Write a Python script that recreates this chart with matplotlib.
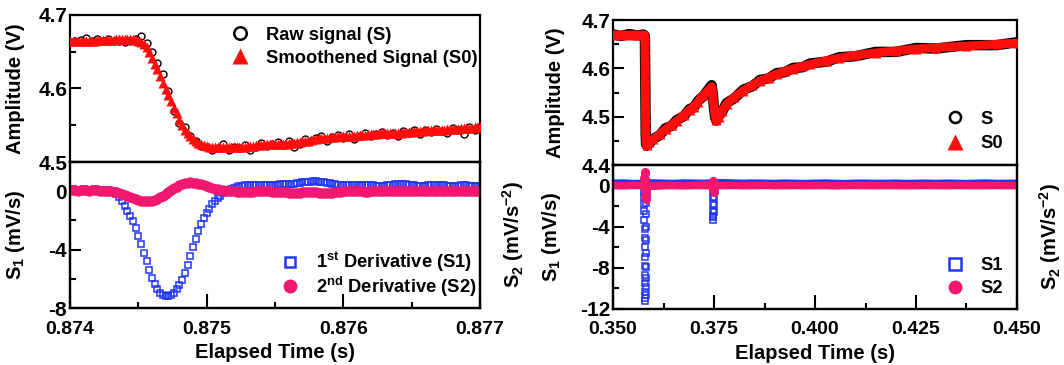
import numpy as np
import matplotlib
matplotlib.use("Agg")
import matplotlib.pyplot as plt
from matplotlib.lines import Line2D
from matplotlib.ticker import MultipleLocator, FormatStrFormatter

# ---------------- left panel: zoom on one event (sampled every 20 us) ----------------
t_left = np.round(np.linspace(0.874, 0.877, 151), 6)
t_left_raw = np.round(np.linspace(0.874, 0.877, 76), 6)

s0_left = [
    4.664, 4.664, 4.664, 4.665, 4.665, 4.665, 4.665, 4.665, 4.665, 4.665,
    4.666, 4.666, 4.666, 4.666, 4.666, 4.666, 4.666, 4.667, 4.667, 4.667,
    4.667, 4.667, 4.667, 4.667, 4.666, 4.665, 4.663, 4.660, 4.656, 4.650,
    4.642, 4.634, 4.626, 4.617, 4.608, 4.600, 4.591, 4.583, 4.574, 4.566,
    4.557, 4.550, 4.544, 4.539, 4.535, 4.531, 4.528, 4.526, 4.524, 4.523,
    4.522, 4.521, 4.521, 4.520, 4.520, 4.520, 4.520, 4.520, 4.520, 4.520,
    4.520, 4.521, 4.521, 4.521, 4.521, 4.522, 4.522, 4.522, 4.523, 4.523,
    4.523, 4.524, 4.524, 4.524, 4.524, 4.525, 4.525, 4.525, 4.525, 4.525,
    4.526, 4.526, 4.526, 4.527, 4.527, 4.528, 4.529, 4.529, 4.530, 4.531,
    4.531, 4.532, 4.532, 4.533, 4.533, 4.534, 4.534, 4.534, 4.535, 4.535,
    4.535, 4.536, 4.536, 4.536, 4.536, 4.537, 4.537, 4.537, 4.537, 4.538,
    4.538, 4.538, 4.538, 4.539, 4.539, 4.539, 4.539, 4.540, 4.540, 4.540,
    4.540, 4.540, 4.541, 4.541, 4.541, 4.541, 4.542, 4.542, 4.542, 4.542,
    4.543, 4.543, 4.543, 4.543, 4.544, 4.544, 4.544, 4.544, 4.545, 4.545,
    4.545, 4.545, 4.545, 4.546, 4.546, 4.546, 4.546, 4.546, 4.547, 4.547,
    4.547,
]

s_left = [
    4.663, 4.665, 4.666, 4.669, 4.665, 4.668, 4.664, 4.667, 4.665, 4.664,
    4.663, 4.664, 4.668, 4.672, 4.662, 4.650, 4.635, 4.620, 4.597, 4.570,
    4.553, 4.548, 4.536, 4.529, 4.522, 4.521, 4.516, 4.519, 4.525, 4.516,
    4.520, 4.519, 4.523, 4.517, 4.521, 4.526, 4.522, 4.524, 4.527, 4.523,
    4.528, 4.520, 4.525, 4.531, 4.528, 4.532, 4.535, 4.529, 4.534, 4.537,
    4.533, 4.538, 4.531, 4.536, 4.540, 4.535, 4.538, 4.541, 4.537, 4.540,
    4.536, 4.542, 4.539, 4.543, 4.538, 4.544, 4.541, 4.545, 4.542, 4.540,
    4.546, 4.544, 4.538, 4.547, 4.544, 4.548,
]

s1_left = [
    0.10, 0.12, 0.10, 0.08, 0.10, 0.12, 0.11, 0.09, 0.10, 0.12,
    0.10, 0.08, 0.09, 0.07, 0.05, 0.03, 0.00, -0.20, -0.40, -0.70,
    -1.00, -1.35, -1.70, -2.05, -2.55, -3.10, -3.65, -4.20, -4.80, -5.40,
    -5.95, -6.35, -6.70, -6.95, -7.10, -7.20, -7.20, -7.10, -6.95, -6.70,
    -6.40, -6.05, -5.60, -5.05, -4.45, -3.85, -3.30, -2.75, -2.25, -1.85,
    -1.50, -1.20, -0.90, -0.65, -0.45, -0.30, -0.15, -0.05, 0.05, 0.15,
    0.22, 0.28, 0.33, 0.37, 0.40, 0.42, 0.43, 0.44, 0.45, 0.44,
    0.43, 0.42, 0.42, 0.43, 0.44, 0.45, 0.45, 0.46, 0.46, 0.47,
    0.48, 0.50, 0.52, 0.55, 0.58, 0.61, 0.63, 0.65, 0.66, 0.67,
    0.67, 0.66, 0.64, 0.61, 0.57, 0.53, 0.49, 0.46, 0.44, 0.42,
    0.41, 0.40, 0.41, 0.42, 0.43, 0.44, 0.45, 0.45, 0.44, 0.43,
    0.41, 0.40, 0.39, 0.38, 0.38, 0.39, 0.40, 0.42, 0.44, 0.46,
    0.47, 0.48, 0.47, 0.46, 0.44, 0.42, 0.40, 0.39, 0.38, 0.38,
    0.39, 0.40, 0.41, 0.42, 0.42, 0.42, 0.41, 0.40, 0.39, 0.38,
    0.38, 0.38, 0.39, 0.40, 0.40, 0.40, 0.39, 0.38, 0.38, 0.38,
    0.38,
]

s2_left = [
    0.05, 0.06, 0.05, 0.04, 0.05, 0.06, 0.05, 0.04, 0.05, 0.06,
    0.05, 0.04, 0.03, 0.02, 0.01, 0.00, -0.03, -0.07, -0.12, -0.18,
    -0.25, -0.32, -0.40, -0.48, -0.55, -0.61, -0.66, -0.69, -0.70, -0.69,
    -0.66, -0.60, -0.52, -0.42, -0.30, -0.17, -0.04, 0.09, 0.21, 0.32,
    0.42, 0.50, 0.56, 0.59, 0.60, 0.59, 0.56, 0.51, 0.46, 0.40,
    0.34, 0.28, 0.23, 0.18, 0.14, 0.10, 0.07, 0.04, 0.02, 0.00,
    -0.02, -0.03, -0.04, -0.05, -0.05, -0.05, -0.04, -0.03, -0.02, -0.01,
    0.00, 0.00, -0.01, -0.02, -0.03, -0.04, -0.05, -0.06, -0.07, -0.08,
    -0.09, -0.10, -0.10, -0.10, -0.09, -0.08, -0.07, -0.06, -0.06, -0.07,
    -0.08, -0.10, -0.11, -0.12, -0.12, -0.11, -0.10, -0.08, -0.06, -0.04,
    -0.02, -0.01, 0.00, 0.01, 0.01, 0.00, -0.01, -0.02, -0.03, -0.03,
    -0.02, -0.01, 0.00, 0.01, 0.02, 0.02, 0.01, 0.00, -0.01, -0.02,
    -0.02, -0.01, 0.00, 0.01, 0.01, 0.00, -0.01, -0.02, -0.02, -0.01,
    0.00, 0.01, 0.02, 0.02, 0.01, 0.00, -0.01, -0.02, -0.02, -0.01,
    0.00, 0.01, 0.01, 0.00, -0.01, -0.01, 0.00, 0.01, 0.01, 0.00,
    0.00,
]

# ---------------- right panel: longer window with two events ----------------
t_right = [
    0.3500, 0.3520, 0.3540, 0.3560, 0.3575, 0.3578, 0.35790, 0.35792,
    0.35794, 0.35796, 0.35798, 0.35800, 0.35802, 0.35804, 0.35806, 0.35808,
    0.35810, 0.35815, 0.35820, 0.3584, 0.3590, 0.3600, 0.3616, 0.3630,
    0.3645, 0.3658, 0.3675, 0.3690, 0.3700, 0.3710, 0.3724, 0.3735,
    0.3744, 0.3747, 0.3750, 0.3753, 0.3756, 0.3762, 0.3770, 0.3781,
    0.3800, 0.3823, 0.3845, 0.3864, 0.3885, 0.3905, 0.3925, 0.3946,
    0.3968, 0.3988, 0.4029, 0.4060, 0.4100, 0.4150, 0.4200, 0.4250,
    0.4300, 0.4375, 0.4450, 0.4500,
]
s0_right = [
    4.669, 4.669, 4.669, 4.669, 4.669, 4.669, 4.660, 4.640,
    4.620, 4.600, 4.580, 4.560, 4.540, 4.520, 4.500, 4.480,
    4.465, 4.452, 4.445, 4.442, 4.447, 4.453, 4.464, 4.474,
    4.483, 4.491, 4.503, 4.514, 4.521, 4.530, 4.545, 4.553,
    4.562, 4.545, 4.520, 4.500, 4.494, 4.500, 4.512, 4.526,
    4.540, 4.554, 4.565, 4.574, 4.581, 4.588, 4.594, 4.599,
    4.604, 4.608, 4.616, 4.621, 4.627, 4.632, 4.636, 4.640,
    4.643, 4.646, 4.650, 4.652,
]
s_right = [
    4.670, 4.667, 4.671, 4.668, 4.670, 4.668, 4.662, 4.641,
    4.618, 4.601, 4.578, 4.561, 4.538, 4.521, 4.499, 4.481,
    4.463, 4.450, 4.443, 4.440, 4.445, 4.454, 4.462, 4.476,
    4.481, 4.493, 4.501, 4.516, 4.519, 4.532, 4.543, 4.555,
    4.565, 4.547, 4.518, 4.498, 4.492, 4.502, 4.510, 4.528,
    4.538, 4.556, 4.563, 4.576, 4.579, 4.590, 4.592, 4.601,
    4.602, 4.610, 4.614, 4.623, 4.625, 4.634, 4.634, 4.642,
    4.641, 4.648, 4.648, 4.654,
]

t_base = [
    0.3500, 0.3525, 0.3550, 0.3575, 0.3600, 0.3625, 0.3650, 0.3675,
    0.3700, 0.3725, 0.3750, 0.3775, 0.3800, 0.3825, 0.3850, 0.3875,
    0.3900, 0.3925, 0.3950, 0.3975, 0.4000, 0.4025, 0.4050, 0.4075,
    0.4100, 0.4125, 0.4150, 0.4175, 0.4200, 0.4225, 0.4250, 0.4275,
    0.4300, 0.4325, 0.4350, 0.4375, 0.4400, 0.4425, 0.4450, 0.4475,
    0.4500,
]
s1_base = [
    0.15, 0.17, 0.12, 0.14, 0.18, 0.15, 0.13, 0.17, 0.16, 0.14,
    0.19, 0.20, 0.16, 0.14, 0.17, 0.15, 0.13, 0.16, 0.14, 0.12,
    0.15, 0.17, 0.14, 0.11, 0.15, 0.16, 0.13, 0.14, 0.16, 0.12,
    0.14, 0.15, 0.13, 0.16, 0.14, 0.12, 0.15, 0.17, 0.13, 0.14,
    0.15,
]
s2_base = [
    0.00, -0.02, 0.01, 0.00, -0.01, 0.01, 0.00, -0.02, 0.01, 0.00,
    -0.01, 0.00, 0.01, -0.01, 0.00, 0.02, -0.01, 0.00, 0.01, -0.01,
    0.00, 0.01, -0.02, 0.00, 0.01, 0.00, -0.01, 0.01, 0.00, -0.01,
    0.00, 0.01, 0.00, -0.01, 0.01, 0.00, -0.01, 0.00, 0.01, 0.00,
    0.00,
]

t_s1_spike = [
    0.35760, 0.35765, 0.35770, 0.35772, 0.35775, 0.35777, 0.35780, 0.35782,
    0.35785, 0.35787, 0.35790, 0.35792, 0.35795, 0.35797, 0.35800, 0.35803,
    0.35806, 0.35808, 0.35811, 0.35814, 0.35817, 0.35820, 0.35823, 0.35826,
    0.35829, 0.35832, 0.35835,
    0.37465, 0.37468, 0.37471, 0.37474, 0.37477, 0.37480, 0.37483, 0.37486,
    0.37489, 0.37492, 0.37495, 0.37498, 0.37501,
]
s1_spike = [
    0.0, -0.5, -1.1, -1.8, -2.5, -3.3, -4.2, -5.1,
    -6.0, -6.9, -7.8, -8.7, -9.5, -10.3, -10.9, -11.2,
    -10.6, -9.9, -9.0, -7.9, -6.6, -5.3, -4.0, -2.8,
    -1.7, -0.8, -0.2,
    0.0, -0.5, -1.1, -1.8, -2.5, -3.0, -3.3, -3.1,
    -2.6, -1.9, -1.2, -0.6, -0.1,
]

t_s2_spike = [
    0.35770, 0.35775, 0.35780, 0.35785, 0.35790, 0.35795, 0.35800, 0.35805,
    0.35810, 0.35815, 0.35820,
    0.37470, 0.37475, 0.37480, 0.37485, 0.37490, 0.37495,
]
s2_spike = [
    0.2, 0.7, 1.2, 1.3, 0.6, -0.3, -1.0, -1.3,
    -1.1, -0.6, -0.2,
    0.2, 0.4, 0.1, -0.4, -0.6, -0.3,
]

RED = "#ff0d0d"
BLUE = "#2236f2"
PINK = "#f2176f"
FS_XTICK = 14
FS_YTICK = 15
FS_LABEL = 14.5
FS_LEG = 13.2

plt.rcParams["font.family"] = ["Liberation Sans", "DejaVu Sans"]
plt.rcParams["font.weight"] = "bold"
plt.rcParams["axes.labelweight"] = "bold"
plt.rcParams["axes.unicode_minus"] = False
plt.rcParams["mathtext.fontset"] = "custom"
plt.rcParams["mathtext.rm"] = "Liberation Sans:bold"
plt.rcParams["mathtext.it"] = "Liberation Sans:bold"
plt.rcParams["mathtext.bf"] = "Liberation Sans:bold"
plt.rcParams["axes.linewidth"] = 1.6


def style(ax, xaxis=True):
    ax.tick_params(which="both", direction="in", width=1.5,
                   top=False, right=False)
    ax.tick_params(which="major", length=8)
    ax.tick_params(which="minor", length=4)
    ax.tick_params(axis="y", pad=2, labelsize=FS_YTICK)
    ax.tick_params(axis="x", pad=9, labelsize=FS_XTICK)
    if not xaxis:
        ax.tick_params(axis="x", which="both", bottom=False, labelbottom=False)


def add_s2_label(ax, x):
    tw = ax.twinx()
    tw.set_ylim(ax.get_ylim())
    tw.tick_params(which="both", right=False, labelright=False)
    tw.set_ylabel("S$_2$ (mV/s$^{-2}$)", fontsize=FS_LABEL, rotation=90)
    tw.yaxis.set_label_coords(x, 0.5)
    return tw


def legend(ax, handles, labels, x, y, spacing):
    ax.legend(handles, labels, loc="upper left", bbox_to_anchor=(x, y),
              frameon=False, fontsize=FS_LEG, handlelength=1.0,
              handletextpad=0.9, borderpad=0, borderaxespad=0,
              labelspacing=spacing)


fig = plt.figure(figsize=(10.64, 3.65), dpi=100)

# ---- left top
ax1 = fig.add_axes([70 / 1064, 203 / 365, 410 / 1064, 147 / 365])
ax1.plot(t_left_raw, s_left, "o", mfc="none", mec="black", mew=1.0, ms=5, zorder=2)
ax1.plot(t_left, s0_left, "^", color=RED, mec="none", ms=6.5, zorder=3)
ax1.set_xlim(0.874, 0.877)
ax1.set_ylim(4.5, 4.7)
ax1.yaxis.set_major_locator(MultipleLocator(0.1))
ax1.yaxis.set_minor_locator(MultipleLocator(0.05))
ax1.yaxis.set_major_formatter(FormatStrFormatter("%.1f"))
style(ax1, xaxis=False)
ax1.set_ylabel("Amplitude (V)", fontsize=FS_LABEL)
ax1.yaxis.set_label_coords(-0.11, 0.5)
legend(ax1,
       [Line2D([], [], ls="none", marker="o", mfc="none", mec="black", mew=1.8, ms=9),
        Line2D([], [], ls="none", marker="^", color=RED, mec="none", ms=12)],
       ["Raw signal (S)", "Smoothened Signal (S0)"], 0.393, 0.92, 0.32)

# ---- left bottom
ax2 = fig.add_axes([70 / 1064, 57 / 365, 410 / 1064, 146 / 365])
ax2.plot(t_left, s1_left, "s", mfc="none", mec=BLUE, mew=1.1, ms=4.5)
ax2.set_xlim(0.874, 0.877)
ax2.set_ylim(-8, 2)
ax2.xaxis.set_major_locator(MultipleLocator(0.001))
ax2.xaxis.set_minor_locator(MultipleLocator(0.0005))
ax2.xaxis.set_major_formatter(FormatStrFormatter("%.3f"))
ax2.yaxis.set_major_locator(MultipleLocator(4))
ax2.yaxis.set_minor_locator(MultipleLocator(2))
style(ax2)
ax2.tick_params(axis="x", which="major", length=10)
ax2.set_ylabel("S$_1$ (mV/s)", fontsize=FS_LABEL)
ax2.yaxis.set_label_coords(-0.105, 0.5)
ax2.set_xlabel("Elapsed Time (s)", fontsize=FS_LABEL, labelpad=4)
tw2 = add_s2_label(ax2, 1.049)
tw2.plot(t_left, s2_left, "o", color=PINK, mec="none", ms=7.5)
legend(tw2,
       [Line2D([], [], ls="none", marker="s", mfc="none", mec=BLUE, mew=1.8, ms=7.5),
        Line2D([], [], ls="none", marker="o", color=PINK, mec="none", ms=10)],
       ["1$^{st}$ Derivative (S1)", "2$^{nd}$ Derivative (S2)"], 0.515, 0.395, 0.0)

# ---- right top
ax3 = fig.add_axes([613 / 1064, 200 / 365, 404 / 1064, 145 / 365])
ax3.plot(t_right, s_right, "-", color="black", lw=7.5, solid_capstyle="round", zorder=2)
ax3.plot(t_right, s_right, "o", mfc="none", mec="black", mew=0.8, ms=5, zorder=2)
ax3.plot(t_right, s0_right, "-", color=RED, lw=6.3, solid_capstyle="round", zorder=3)
ax3.plot(t_right, s0_right, "^", color=RED, mec="none", ms=6.5, zorder=3)
ax3.set_xlim(0.35, 0.45)
ax3.set_ylim(4.4, 4.7)
ax3.yaxis.set_major_locator(MultipleLocator(0.1))
ax3.yaxis.set_minor_locator(MultipleLocator(0.05))
ax3.yaxis.set_major_formatter(FormatStrFormatter("%.1f"))
style(ax3, xaxis=False)
ax3.set_ylabel("Amplitude (V)", fontsize=FS_LABEL)
ax3.yaxis.set_label_coords(-0.119, 0.5)
legend(ax3,
       [Line2D([], [], ls="none", marker="o", mfc="none", mec="black", mew=1.8, ms=8),
        Line2D([], [], ls="none", marker="^", color=RED, mec="none", ms=11)],
       ["S", "S0"], 0.824, 0.375, 0.42)

# ---- right bottom
ax4 = fig.add_axes([613 / 1064, 56 / 365, 404 / 1064, 144 / 365])
ax4.plot(t_base, s1_base, "-", color=BLUE, lw=6.5)
ax4.plot(t_s1_spike, s1_spike, "s", mfc="none", mec=BLUE, mew=1.1, ms=4.5)
ax4.set_xlim(0.35, 0.45)
ax4.set_ylim(-12, 2)
ax4.xaxis.set_major_locator(MultipleLocator(0.025))
ax4.xaxis.set_minor_locator(MultipleLocator(0.0125))
ax4.xaxis.set_major_formatter(FormatStrFormatter("%.3f"))
ax4.yaxis.set_major_locator(MultipleLocator(4))
ax4.yaxis.set_minor_locator(MultipleLocator(2))
style(ax4)
ax4.tick_params(axis="x", which="major", length=10)
ax4.set_ylabel("S$_1$ (mV/s)", fontsize=FS_LABEL)
ax4.yaxis.set_label_coords(-0.124, 0.5)
ax4.set_xlabel("Elapsed Time (s)", fontsize=FS_LABEL, labelpad=4)
tw4 = add_s2_label(ax4, 1.049)
tw4.plot(t_base, s2_base, "-", color=PINK, lw=5.5)
tw4.plot(t_s2_spike, s2_spike, "o-", color=PINK, mec="none", ms=6.5, lw=4)
legend(tw4,
       [Line2D([], [], ls="none", marker="s", mfc="none", mec=BLUE, mew=1.8, ms=8),
        Line2D([], [], ls="none", marker="o", color=PINK, mec="none", ms=10)],
       ["S1", "S2"], 0.824, 0.36, 0.32)

fig.savefig("out.png", dpi=100)
